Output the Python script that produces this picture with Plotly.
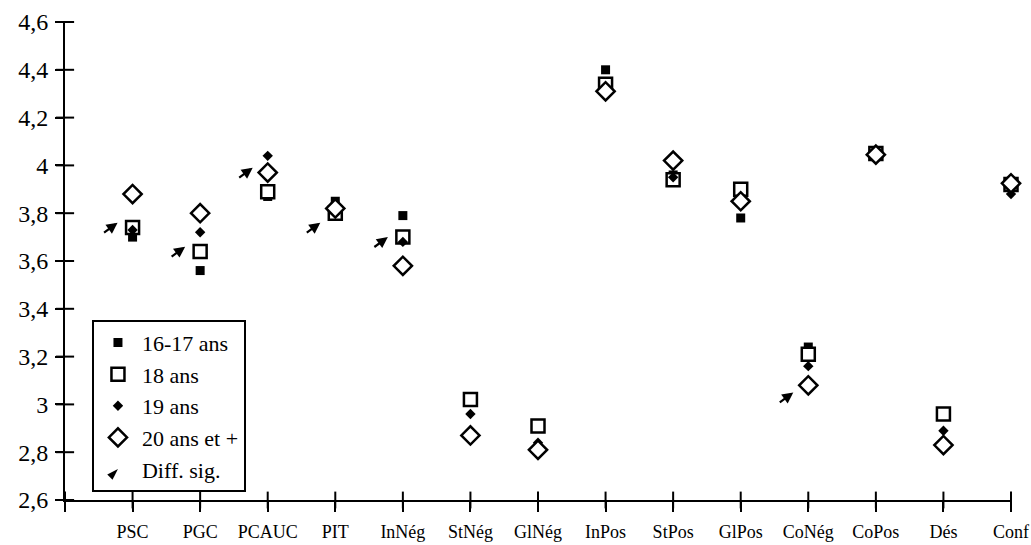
import plotly.graph_objects as go

# Scale scores by age group
categories = ["PSC", "PGC", "PCAUC", "PIT", "InNég", "StNég", "GlNég",
              "InPos", "StPos", "GlPos", "CoNég", "CoPos", "Dés", "Conf"]
ans_16_17 = [3.70, 3.56, 3.87, 3.85, 3.79, 3.01, 2.90, 4.40, 3.96, 3.78, 3.24, 4.05, 2.95, 3.92]
ans_18 = [3.74, 3.64, 3.89, 3.80, 3.70, 3.02, 2.91, 4.34, 3.94, 3.90, 3.21, 4.05, 2.96, 3.92]
ans_19 = [3.73, 3.72, 4.04, 3.81, 3.68, 2.96, 2.84, 4.32, 3.95, 3.84, 3.16, 4.04, 2.89, 3.88]
ans_20_plus = [3.88, 3.80, 3.97, 3.82, 3.58, 2.87, 2.81, 4.31, 4.02, 3.85, 3.08, 4.045, 2.83, 3.925]

# Scales with a significant age difference, and the level the arrow points to
sig_categories = ["PSC", "PGC", "PCAUC", "PIT", "InNég", "CoNég"]
sig_levels = [3.76, 3.66, 3.99, 3.76, 3.70, 3.05]

y_ticks = [2.6, 2.8, 3.0, 3.2, 3.4, 3.6, 3.8, 4.0, 4.2, 4.4, 4.6]

FONT = "Liberation Serif, Times New Roman, serif"
BLACK = "#000000"

# Each scale sits on its own tick of a linear axis; the extra tick at the
# left end marks the origin where the two axes cross.
x_pos = list(range(len(categories)))
x_of = dict(zip(categories, x_pos))
x_range = [-1, len(categories) - 1]
y_range = [2.6, 4.6]
x_tickvals = [x_range[0]] + x_pos
x_ticktext = [""] + categories

fig = go.Figure()

# Cross-shaped tick marks: short line markers centred on each axis tick
fig.add_trace(go.Scatter(
    x=[x_range[0]] * len(y_ticks), y=y_ticks, mode="markers", cliponaxis=False,
    marker=dict(symbol="line-ew", size=13, line=dict(color=BLACK, width=2)),
    showlegend=False, hoverinfo="skip",
))
fig.add_trace(go.Scatter(
    x=x_tickvals, y=[y_range[0]] * len(x_tickvals), mode="markers", cliponaxis=False,
    marker=dict(symbol="line-ns", size=12, line=dict(color=BLACK, width=2)),
    showlegend=False, hoverinfo="skip",
))

fig.add_trace(go.Scatter(
    x=x_pos, y=ans_16_17, mode="markers", name="16-17 ans", cliponaxis=False,
    marker=dict(symbol="square", size=9, color=BLACK, line=dict(width=0)),
))
fig.add_trace(go.Scatter(
    x=x_pos, y=ans_18, mode="markers", name="18 ans", cliponaxis=False,
    marker=dict(symbol="square", size=13, color="white",
                line=dict(color=BLACK, width=2.5)),
))
fig.add_trace(go.Scatter(
    x=x_pos, y=ans_19, mode="markers", name="19 ans", cliponaxis=False,
    marker=dict(symbol="diamond", size=8, color=BLACK, line=dict(width=0)),
))
fig.add_trace(go.Scatter(
    x=x_pos, y=ans_20_plus, mode="markers", name="20 ans et +", cliponaxis=False,
    marker=dict(symbol="diamond", size=14, color="white",
                line=dict(color=BLACK, width=2.5)),
))
# Legend entry for the significance arrows
fig.add_trace(go.Scatter(
    x=[None], y=[None], mode="markers", name="Diff. sig.",
    marker=dict(symbol="arrow", size=12, angle=45, color=BLACK),
))

for cat, level in zip(sig_categories, sig_levels):
    fig.add_annotation(
        x=x_of[cat], y=level, xref="x", yref="y", xshift=-15,
        ax=-15, ay=11, text="", showarrow=True,
        arrowhead=2, arrowsize=1, arrowwidth=2.2, arrowcolor=BLACK,
    )

fig.update_layout(
    xaxis=dict(
        range=x_range, automargin=False,
        tickmode="array", tickvals=x_tickvals, ticktext=x_ticktext,
        showline=True, linecolor=BLACK, linewidth=2,
        showgrid=False, zeroline=False,
        ticks="outside", ticklen=10, tickwidth=2, tickcolor=BLACK,
        tickfont=dict(family=FONT, size=18, color=BLACK),
        ticklabelstandoff=4,
    ),
    yaxis=dict(
        range=y_range, tickmode="array", tickvals=y_ticks, automargin=False,
        showline=True, linecolor=BLACK, linewidth=2,
        showgrid=False, zeroline=False,
        ticks="outside", ticklen=8, tickwidth=2, tickcolor=BLACK,
        tickfont=dict(family=FONT, size=24, color=BLACK),
        ticklabelstandoff=2,
    ),
    width=1031, height=545,
    margin=dict(l=65, r=20, t=22, b=45),
    paper_bgcolor="white", plot_bgcolor="white",
    separators=", ",
    font=dict(family=FONT, color=BLACK),
    legend=dict(
        x=0.0285, y=0.377, xanchor="left", yanchor="top",
        bgcolor="white", bordercolor=BLACK, borderwidth=2,
        font=dict(family=FONT, size=22, color=BLACK),
        itemwidth=38, tracegroupgap=0,
    ),
)

fig.write_html("out.html")
